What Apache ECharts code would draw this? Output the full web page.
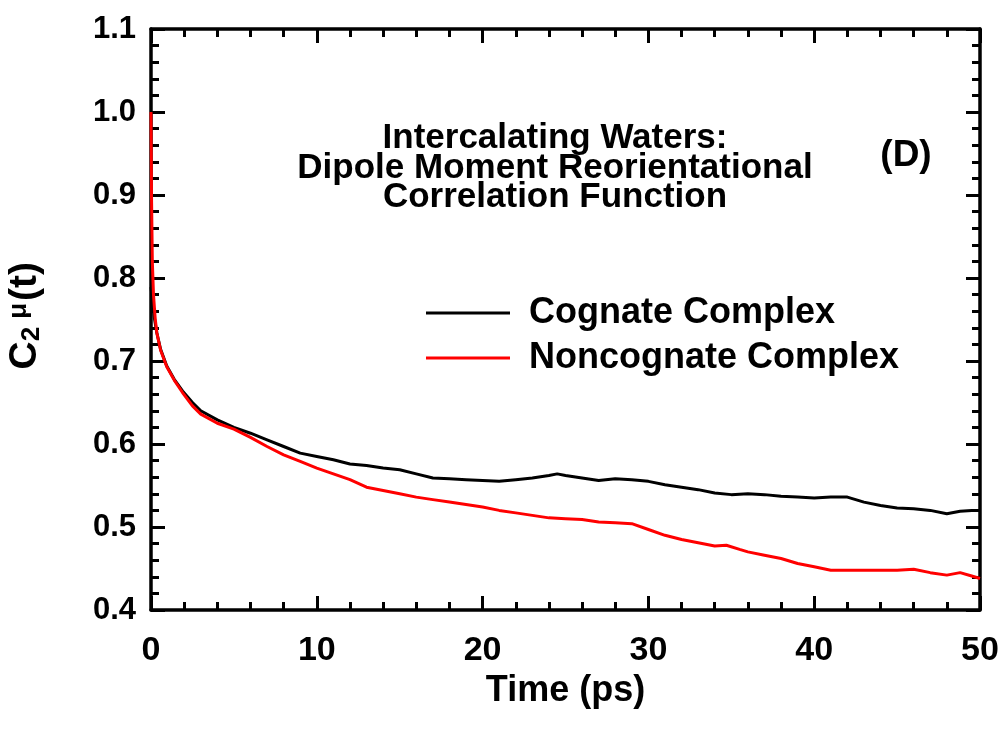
<!DOCTYPE html>
<html>
<head>
<meta charset="utf-8">
<script src="https://cdn.jsdelivr.net/npm/echarts@6/dist/echarts.min.js"></script>
<style>
html,body{margin:0;padding:0;background:#fff;}
#chart{width:1003px;height:734px;}
</style>
</head>
<body>
<div id="chart"></div>
<script>
// ---- data ----
var seriesNames = ['Cognate Complex', 'Noncognate Complex'];
var cognateTime = [0,0.1,0.2,0.35,0.58,0.95,1.4,1.9,2.5,3,4,5,6,7,8,9,10,11,12,13,14,15,16,17,18,19,20,21,22,23,24,24.5,25,26,27,28,29,30,31,32,33,34,35,36,37,38,39,40,41,42,43,44,45,46,47,48,48.8,49.5,50];
var cognateValue = [0.789,0.770,0.752,0.734,0.714,0.694,0.678,0.664,0.650,0.640,0.629,0.620,0.613,0.605,0.597,0.589,0.585,0.581,0.576,0.574,0.571,0.569,0.564,0.559,0.558,0.557,0.556,0.555,0.557,0.559,0.562,0.564,0.562,0.559,0.556,0.558,0.557,0.555,0.551,0.548,0.545,0.541,0.539,0.540,0.539,0.537,0.536,0.535,0.536,0.536,0.530,0.526,0.523,0.522,0.520,0.516,0.519,0.520,0.520];
var noncognateTime = [0,0.03,0.08,0.15,0.25,0.35,0.58,0.95,1.4,1.9,2.5,3,4,5,6,7,8,9,10,11,12,13,14,15,16,17,18,19,20,21,22,23,24,25,26,27,28,29,30,31,32,33,34,34.7,35.5,36,37,38,39,40,41,42,43,44,45,46,47,48,48.8,49.5,50];
var noncognateValue = [1.000,0.900,0.820,0.780,0.752,0.734,0.713,0.693,0.677,0.662,0.646,0.636,0.625,0.618,0.608,0.597,0.587,0.579,0.571,0.564,0.557,0.548,0.544,0.540,0.536,0.533,0.530,0.527,0.524,0.520,0.517,0.514,0.511,0.510,0.509,0.506,0.505,0.504,0.497,0.490,0.485,0.481,0.477,0.478,0.473,0.470,0.466,0.462,0.456,0.452,0.448,0.448,0.448,0.448,0.448,0.449,0.445,0.442,0.445,0.441,0.438];
var titleLines = ['Intercalating Waters:', 'Dipole Moment Reorientational', 'Correlation Function'];
var panelLabel = '(D)';
var xAxisTitle = 'Time (ps)';

function pairs(t, v) { return t.map(function (x, i) { return [x, v[i]]; }); }

var FONT = '"Liberation Sans", Arial, Helvetica, sans-serif';
var chart = echarts.init(document.getElementById('chart'), null, {renderer: 'canvas'});

function axisCommon() {
  return {
    axisLine: {show: true, onZero: false, lineStyle: {color: '#000', width: 3.5}},
    axisTick: {show: true, inside: true, length: 14, lineStyle: {color: '#000', width: 3}},
    minorTick: {show: true, splitNumber: 5, length: 8, lineStyle: {color: '#000', width: 3}},
    splitLine: {show: false},
    minorSplitLine: {show: false}
  };
}

var xb = Object.assign(axisCommon(), {
  type: 'value', position: 'bottom', min: 0, max: 50, interval: 10,
  axisLabel: {show: true, color: '#000', fontFamily: FONT, fontWeight: 'bold', fontSize: 34, margin: 24},
  name: xAxisTitle, nameLocation: 'middle', nameGap: 54,
  nameTextStyle: {color: '#000', fontFamily: FONT, fontWeight: 'bold', fontSize: 36}
});
var xt = Object.assign(axisCommon(), {
  type: 'value', position: 'top', min: 0, max: 50, interval: 10, axisLabel: {show: false}
});
var yl = Object.assign(axisCommon(), {
  type: 'value', position: 'left', min: 0.4, max: 1.1, interval: 0.1,
  axisLabel: {show: true, color: '#000', fontFamily: FONT, fontWeight: 'bold', fontSize: 31, margin: 15,
    formatter: function (v) { return v.toFixed(1); }}
});
var yr = Object.assign(axisCommon(), {
  type: 'value', position: 'right', min: 0.4, max: 1.1, interval: 0.1, axisLabel: {show: false}
});

var option = {
  backgroundColor: '#fff',
  animation: false,
  grid: {left: 151, right: 23, top: 29, bottom: 124, containLabel: false},
  title: [
    {text: titleLines.join('\n'), left: 550, top: 119, textAlign: 'center',
     textStyle: {color: '#000', fontFamily: FONT, fontWeight: 'bold', fontSize: 35, lineHeight: 29.5}},
    {text: panelLabel, left: 901, top: 132, textAlign: 'center',
     textStyle: {color: '#000', fontFamily: FONT, fontWeight: 'bold', fontSize: 37}}
  ],
  legend: {
    orient: 'vertical', left: 421, top: 288, itemGap: 5, itemWidth: 84, itemHeight: 3,
    icon: 'rect',
    textStyle: {color: '#000', fontFamily: FONT, fontWeight: 'bold', fontSize: 36, lineHeight: 40, padding: [0, 0, 0, 14]},
    data: seriesNames
  },
  graphic: [{
    type: 'text', left: 6, top: 262, rotation: Math.PI / 2,
    style: {
      text: '{a|C}{b|2}{c|μ}{a|(t)}',
      textAlign: 'center', textVerticalAlign: 'middle',
      rich: {
        a: {fontFamily: FONT, fontWeight: 'bold', fontSize: 39, lineHeight: 39, verticalAlign: 'middle', fill: '#000'},
        b: {fontFamily: FONT, fontWeight: 'bold', fontSize: 26, lineHeight: 26, verticalAlign: 'bottom', fill: '#000'},
        c: {fontFamily: FONT, fontWeight: 'bold', fontSize: 26, lineHeight: 26, verticalAlign: 'top', fill: '#000', padding: [0, 2, 0, 8]}
      },
      lineHeight: 56
    }
  }],
  xAxis: [xb, xt],
  yAxis: [yl, yr],
  series: [
    {name: seriesNames[0], type: 'line', xAxisIndex: 0, yAxisIndex: 0, showSymbol: false,
     lineStyle: {color: '#000', width: 3}, itemStyle: {color: '#000'},
     data: pairs(cognateTime, cognateValue)},
    {name: seriesNames[1], type: 'line', xAxisIndex: 0, yAxisIndex: 0, showSymbol: false,
     lineStyle: {color: '#ff0000', width: 3}, itemStyle: {color: '#ff0000'},
     data: pairs(noncognateTime, noncognateValue)}
  ]
};
chart.setOption(option);
</script>
</body>
</html>
